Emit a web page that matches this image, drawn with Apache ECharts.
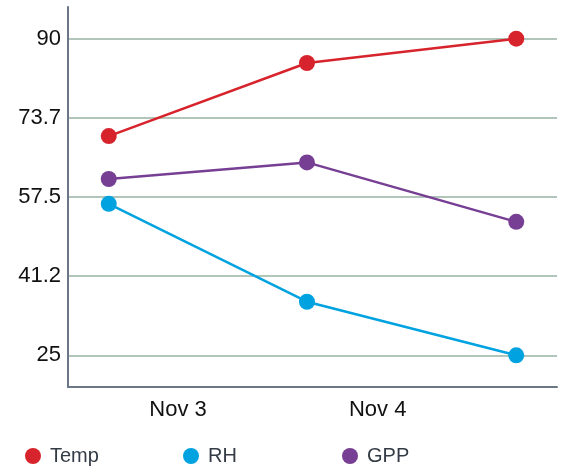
<!DOCTYPE html>
<html>
<head>
<meta charset="utf-8">
<script src="https://cdn.jsdelivr.net/npm/echarts@6/dist/echarts.min.js"></script>
<style>html,body{margin:0;padding:0;background:#fff}#c{width:564px;height:469px}</style>
</head>
<body>
<div id="c"></div>
<script>
// Data
const times = ['2023-11-02T15:40:00Z', '2023-11-03T15:30:00Z', '2023-11-04T16:40:00Z'];
const tempValues = [70.0, 85.0, 90.0];
const rhValues = [56.1, 36.0, 25.0];
const gppValues = [61.2, 64.6, 52.4];
const xTickTimes = ['2023-11-03T00:00:00Z', '2023-11-04T00:00:00Z'];
const xTickLabels = ['Nov 3', 'Nov 4'];
const yTickValues = [25, 41.25, 57.5, 73.75, 90];
const yTickLabels = ['25', '41.2', '57.5', '73.7', '90'];
const seriesNames = ['Temp', 'RH', 'GPP'];

// hours since an origin, so a plain value axis can place times
const origin = Date.parse('2023-11-02T00:00:00Z');
const toHours = t => (Date.parse(t) - origin) / 3600000;
const xTickHours = xTickTimes.map(toHours);
const toPairs = vals => times.map((t, i) => [toHours(t), vals[i]]);

const chart = echarts.init(document.getElementById('c'));
const font = 'Liberation Sans, Arial, sans-serif';
const legendLefts = [20, 178, 337];
chart.setOption({
  animation: false,
  color: ['#d7242c', '#00a3df', '#763f94'],
  grid: { left: 68, right: 7, top: 7, bottom: 82, containLabel: false },
  legend: seriesNames.map((n, i) => ({
    data: [n],
    left: legendLefts[i], top: 441,
    icon: 'circle',
    itemWidth: 24, itemHeight: 16, itemGap: 0,
    textStyle: { fontSize: 20, color: '#333b45', fontFamily: font }
  })),
  xAxis: {
    type: 'value',
    min: v => v.min - (v.max - v.min) * 0.1,
    max: v => v.max + (v.max - v.min) * 0.1,
    axisLine: { show: true, onZero: false, lineStyle: { color: '#6b7686', width: 2 } },
    axisTick: { show: false, customValues: xTickHours },
    splitLine: { show: false },
    axisLabel: {
      customValues: xTickHours,
      fontSize: 22, color: '#111', fontFamily: font, margin: 12,
      formatter: v => { const i = xTickHours.indexOf(v); return i >= 0 ? xTickLabels[i] : ''; }
    }
  },
  yAxis: {
    type: 'value',
    min: 18.5, max: 96.5,
    axisLine: { show: true, onZero: false, lineStyle: { color: '#6b7686', width: 2 } },
    axisTick: { show: false, customValues: yTickValues },
    splitLine: { show: true, lineStyle: { color: '#b2c5bb', width: 2 } },
    axisLabel: {
      customValues: yTickValues,
      fontSize: 22, color: '#111', fontFamily: font, margin: 7,
      formatter: v => { const i = yTickValues.indexOf(v); return i >= 0 ? yTickLabels[i] : ''; }
    }
  },
  series: [
    { name: seriesNames[0], type: 'line', data: toPairs(tempValues), symbol: 'circle', symbolSize: 16, lineStyle: { width: 2.5 } },
    { name: seriesNames[1], type: 'line', data: toPairs(rhValues), symbol: 'circle', symbolSize: 16, lineStyle: { width: 2.5 } },
    { name: seriesNames[2], type: 'line', data: toPairs(gppValues), symbol: 'circle', symbolSize: 16, lineStyle: { width: 2.5 } }
  ]
});
</script>
</body>
</html>
